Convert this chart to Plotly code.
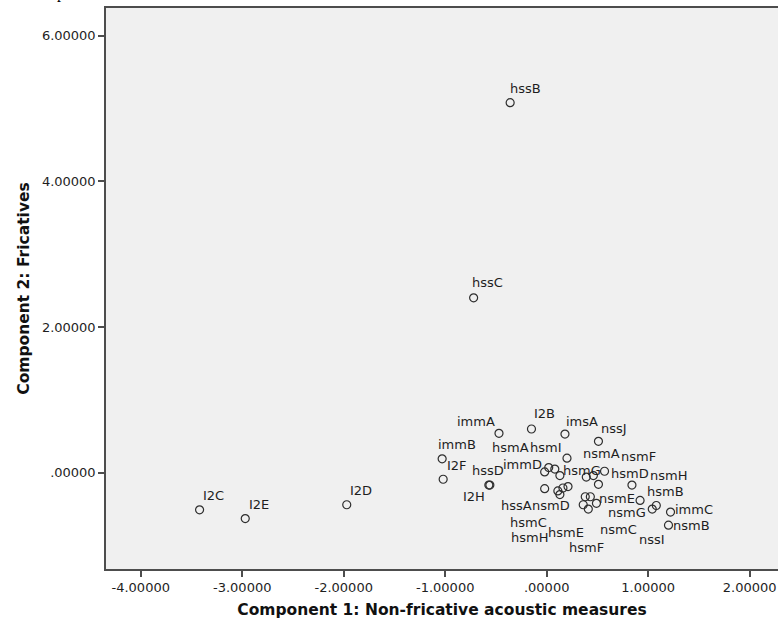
import plotly.graph_objects as go

# Component scores for each speaker/condition
names = [
    "hssB", "hssC", "I2C", "I2E", "I2D", "immB", "I2F", "immA", "I2B", "imsA",
    "nssJ", "hssD", "I2H", "hsmI", "hsmA", "", "immD", "hsmG", "hssA", "hsmC",
    "", "", "nsmD", "", "nsmF", "nsmA", "nsmG", "hsmE", "nsmC", "nsmE",
    "hsmH", "hsmF", "hsmD", "nsmH", "hsmB", "nssI", "immC", "nsmB",
]
component1 = [
    -0.36, -0.72, -3.42, -2.97, -1.97, -1.03, -1.02, -0.47, -0.15, 0.18,
    0.51, -0.56, -0.57, 0.20, 0.02, 0.08, -0.02, 0.13, -0.02, 0.11,
    0.16, 0.21, 0.13, 0.39, 0.46, 0.57, 0.51, 0.38, 0.43, 0.49,
    0.36, 0.41, 0.84, 0.92, 1.08, 1.04, 1.22, 1.20,
]
component2 = [
    5.08, 2.40, -0.51, -0.63, -0.44, 0.19, -0.09, 0.54, 0.60, 0.53,
    0.43, -0.17, -0.17, 0.20, 0.07, 0.05, 0.01, -0.04, -0.22, -0.25,
    -0.21, -0.19, -0.30, -0.06, -0.04, 0.02, -0.16, -0.33, -0.33, -0.42,
    -0.44, -0.50, -0.17, -0.38, -0.45, -0.50, -0.54, -0.72,
]

x_ticks = [-4, -3, -2, -1, 0, 1, 2]
x_tick_text = ["-4.00000", "-3.00000", "-2.00000", "-1.00000", ".00000", "1.00000", "2.00000"]
y_ticks = [0, 2, 4, 6]
y_tick_text = [".00000", "2.00000", "4.00000", "6.00000"]

# Pixel offsets (dx right, dy down) of each point label from its marker
label_offsets = {
    "hssB": (15, -14), "hssC": (14, -15), "I2C": (14, -14), "I2E": (14, -14),
    "I2D": (14, -14), "immB": (15, -14), "I2F": (14, -14), "immA": (-23, -12),
    "I2B": (13, -15), "imsA": (17, -13), "nssJ": (16, -13), "hssD": (-2, -15),
    "I2H": (-15, 11), "hsmI": (-21, -11), "hsmA": (-38, -20), "immD": (-22, -7),
    "hsmG": (22, -5), "hssA": (-28, 17), "hsmC": (-29, 32), "nsmD": (-9, 11),
    "nsmF": (45, -19), "nsmA": (-3, -18), "nsmG": (29, 28), "hsmE": (-19, 36),
    "nsmC": (28, 33), "nsmE": (21, -5), "hsmH": (-54, 33), "hsmF": (-2, 38),
    "hsmD": (-2, -12), "nsmH": (28, -25), "hsmB": (9, -14), "nssI": (0, 30),
    "immC": (23, -3), "nsmB": (23, 0),
}

font_family = "DejaVu Sans"
ink = "#1e1e1e"
frame = "#4d4d4d"

fig = go.Figure()
fig.add_trace(go.Scatter(
    x=component1, y=component2, mode="markers",
    marker=dict(symbol="circle-open", size=8, color="#2e2e2e",
                line=dict(width=1.2, color="#2e2e2e")),
    hoverinfo="text", text=names, showlegend=False,
))

annotations = []
for n, xv, yv in zip(names, component1, component2):
    if not n:
        continue
    dx, dy = label_offsets[n]
    annotations.append(dict(
        x=xv, y=yv, xref="x", yref="y", text=n, showarrow=False,
        xshift=dx, yshift=-dy, font=dict(family=font_family, size=13, color=ink),
    ))

# descender of the text line above the chart
annotations.append(dict(
    x=0, y=1, xref="paper", yref="paper", text="p", showarrow=False,
    xanchor="left", yanchor="bottom", yshift=4, xshift=55 - 106,
    font=dict(family="Liberation Serif", size=16, color="#000000"),
))

fig.update_layout(
    width=778, height=628,
    margin=dict(l=106, r=0, t=8, b=59),
    paper_bgcolor="white", plot_bgcolor="#F0F0F0",
    font=dict(family=font_family, size=13, color=ink),
    annotations=annotations,
    xaxis=dict(
        range=[-4.342, 2.279], tickvals=x_ticks, ticktext=x_tick_text,
        showgrid=False, zeroline=False, showline=True, mirror=True,
        linecolor=frame, linewidth=1.5, ticks="outside", ticklen=6,
        tickcolor=frame, tickwidth=1.5,
        tickfont=dict(family=font_family, size=13, color=ink),
        title=dict(text="<b>Component 1: Non-fricative acoustic measures</b>",
                   font=dict(family=font_family, size=15.5, color="#111111"), standoff=10),
    ),
    yaxis=dict(
        range=[-1.322, 6.379], tickvals=y_ticks, ticktext=y_tick_text,
        showgrid=False, zeroline=False, showline=True, mirror=False,
        linecolor=frame, linewidth=1.5, ticks="outside", ticklen=6,
        tickcolor=frame, tickwidth=1.5,
        tickfont=dict(family=font_family, size=13, color=ink),
        title=dict(text="<b>Component 2: Fricatives</b>",
                   font=dict(family=font_family, size=15.5, color="#111111"), standoff=8),
    ),
)

fig.write_html("out.html")
